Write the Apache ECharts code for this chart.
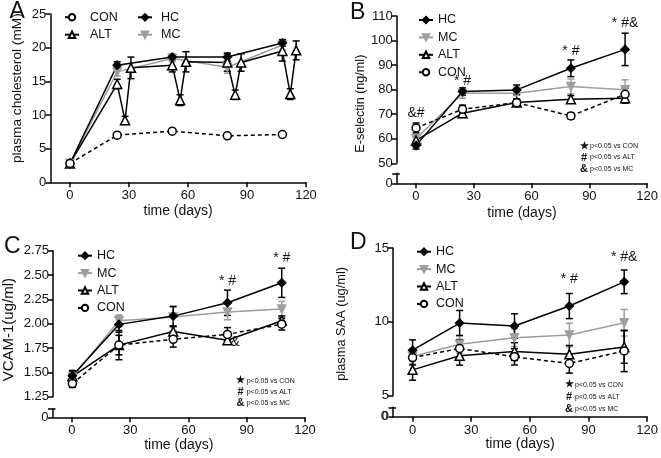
<!DOCTYPE html>
<html><head><meta charset="utf-8">
<script src="https://cdn.jsdelivr.net/npm/echarts@6/dist/echarts.min.js"></script>
<style>html,body{margin:0;padding:0;background:#fff}#c{width:661px;height:458px}</style>
</head><body><div id="c"></div>
<script>
// ---------------- data ----------------
const days = [0, 24, 52, 80, 108];
const xTickValues = [0, 30, 60, 90, 120];

// Panel A: plasma cholesterol (mM)
const cholHC = [2.8, 17.4, 18.6, 18.6, 20.7];
const cholHCErr = [0.3, 0.5, 0.4, 0.6, 0.5];
const cholMC = [2.8, 16.4, 18.4, 17.1, 20.4];
const cholMCErr = [0.3, 0.6, 0.5, 0.9, 0.7];
const cholALTDays = [0, 24, 28, 31, 52, 56, 59, 80, 84, 87, 108, 112, 115];
const cholALT = [2.8, 14.6, 9.2, 17.0, 17.4, 12.2, 17.9, 17.8, 13.0, 17.8, 19.5, 13.1, 19.6];
const cholALTErr = [0.3, 0.7, 0.6, 1.6, 1.0, 0.8, 1.5, 1.3, 0.7, 1.3, 1.5, 0.8, 1.4];
const cholCON = [2.8, 7.0, 7.6, 6.9, 7.1];
const cholCONErr = [0.3, 0.3, 0.3, 0.3, 0.2];

// Panel B: E-selectin (ng/ml)
const eselHC = [57.3, 79.2, 79.9, 88.7, 96.4];
const eselHCErr = [1.5, 1.5, 2.0, 3.4, 6.6];
const eselMC = [60.0, 78.5, 78.5, 81.3, 80.0];
const eselMCErr = [1.5, 2.0, 2.5, 3.0, 4.0];
const eselALT = [59.3, 70.4, 74.8, 76.1, 76.5];
const eselALTErr = [1.5, 1.7, 1.3, 1.5, 2.0];
const eselCON = [64.4, 72.0, 74.7, 69.3, 78.1];
const eselCONErr = [2.0, 1.7, 1.5, 1.3, 2.5];
const eselNotes = [[0, 70.5, '&#'], [24, 83.5, '* #'], [80, 95.5, '* #'], [108, 107, '* #&'], [1.7, 56.6, '*']];

// Panel C: VCAM-1 (ug/ml)
const vcamHC = [1.465, 1.993, 2.078, 2.215, 2.42];
const vcamHCErr = [0.05, 0.08, 0.1, 0.13, 0.15];
const vcamMC = [1.45, 2.03, 2.07, 2.12, 2.15];
const vcamMCErr = [0.05, 0.06, 0.1, 0.08, 0.08];
const vcamALT = [1.46, 1.78, 1.92, 1.83, 2.03];
const vcamALTErr = [0.06, 0.15, 0.05, 0.03, 0.05];
const vcamCON = [1.385, 1.78, 1.84, 1.89, 1.995];
const vcamCONErr = [0.04, 0.1, 0.08, 0.07, 0.06];
const vcamNotes = [[80, 2.44, '* #'], [108, 2.675, '* #'], [84, 1.806, '&']];

// Panel D: plasma SAA (ug/ml)
const saaHC = [8.08, 9.92, 9.72, 11.07, 12.71];
const saaHCErr = [0.7, 0.85, 0.83, 0.85, 0.8];
const saaMC = [7.65, 8.48, 8.93, 9.11, 9.94];
const saaMCErr = [0.5, 0.6, 0.6, 0.8, 0.9];
const saaALT = [6.75, 7.7, 7.99, 7.8, 8.3];
const saaALTErr = [0.7, 0.63, 0.6, 0.6, 1.1];
const saaCON = [7.58, 8.2, 7.63, 7.18, 8.03];
const saaCONErr = [0.5, 0.6, 0.55, 0.65, 1.4];
const saaNotes = [[80, 12.87, '* #'], [108, 14.37, '* #&']];

const sigLegend = [['\u2605', 'p<0.05 vs CON'], ['#', 'p<0.05 vs ALT'], ['&', 'p<0.05 vs MC']];
const stubTicks = [0, 1];
const stubLabels = [0];

// ---------------- styles ----------------
const FONT = 'Liberation Sans';
const BLACK = '#000';
const TEXT = '#111';
const GRAY = '#9e9e9e';
const LW = 1.5;

const styleOf = {
  HC:  {color: BLACK, symbol: 'diamond', size: 8, fill: BLACK, dash: 'solid', rot: 0},
  MC:  {color: GRAY, symbol: 'triangle', size: 8, fill: GRAY, dash: 'solid', rot: 180},
  ALT: {color: BLACK, symbol: 'triangle', size: 9, fill: '#fff', dash: 'solid', rot: 0},
  CON: {color: BLACK, symbol: 'circle', size: 8, fill: '#fff', dash: [4, 3], rot: 0}
};

function zip(xs, ys) { return xs.map((x, i) => [x, ys[i]]); }
function zip3(xs, ys, es) { return xs.map((x, i) => [x, ys[i], es[i]]); }

const series = [];
function addGroup(name, xi, yi, xs, ys, es) {
  const s = styleOf[name];
  series.push({
    type: 'custom', name: name + '_err' + xi, xAxisIndex: xi, yAxisIndex: yi, z: 2, silent: true,
    data: zip3(xs, ys, es),
    renderItem: function (params, api) {
      const x = api.value(0), y = api.value(1), e = api.value(2);
      const t = api.coord([x, y + e]), b = api.coord([x, y - e]);
      const hw = 3.5;
      const st = {stroke: s.color, lineWidth: LW};
      return {type: 'group', children: [
        {type: 'line', shape: {x1: t[0], y1: t[1], x2: b[0], y2: b[1]}, style: st},
        {type: 'line', shape: {x1: t[0] - hw, y1: t[1], x2: t[0] + hw, y2: t[1]}, style: st},
        {type: 'line', shape: {x1: b[0] - hw, y1: b[1], x2: b[0] + hw, y2: b[1]}, style: st}
      ]};
    }
  });
  series.push({
    type: 'line', name: name, xAxisIndex: xi, yAxisIndex: yi, z: 3,
    data: zip(xs, ys),
    symbol: s.symbol, symbolSize: s.size, symbolRotate: s.rot, showSymbol: true,
    lineStyle: {color: s.color, width: LW, type: s.dash},
    itemStyle: {color: s.fill, borderColor: s.color, borderWidth: LW},
    emphasis: {disabled: true}, animation: false
  });
}
function addNotes(xi, yi, notes) {
  series.push({
    type: 'custom', name: 'notes' + xi, xAxisIndex: xi, yAxisIndex: yi, z: 5, silent: true,
    data: notes.map(n => [n[0], n[1]]),
    renderItem: function (params, api) {
      const p = api.coord([api.value(0), api.value(1)]);
      return {type: 'text', x: p[0], y: p[1], style: {text: notes[params.dataIndex][2], fontSize: 14,
        fontFamily: FONT, fill: TEXT, align: 'center', verticalAlign: 'middle'}};
    }
  });
}

// ---------------- axes / grids ----------------
const grid = [], xAxis = [], yAxis = [];
const axisLineCfg = {show: true, onZero: false, lineStyle: {color: BLACK, width: LW}};
const labelCfg = {color: TEXT, fontSize: 13, fontFamily: FONT, fontWeight: 'normal'};
const nameStyle = {fontSize: 14, fontFamily: FONT, color: TEXT, fontWeight: 'normal'};

function addX(gi, show, nameGap) {
  xAxis.push({
    type: 'value', gridIndex: gi, position: 'bottom', min: -10, max: 120, show: show,
    axisLine: axisLineCfg,
    axisTick: {show: true, customValues: xTickValues, length: 5, lineStyle: {color: BLACK, width: LW}},
    axisLabel: Object.assign({customValues: xTickValues, margin: 7}, labelCfg),
    splitLine: {show: false},
    name: show ? 'time (days)' : '', nameLocation: 'middle', nameGap: nameGap, nameMoveOverlap: false,
    nameTextStyle: nameStyle
  });
  return xAxis.length - 1;
}
function addY(gi, min, max, interval, name, nameGap, pad, fs, fmt) {
  yAxis.push({
    type: 'value', gridIndex: gi, position: 'left', min: min, max: max, interval: interval,
    axisLine: axisLineCfg,
    axisTick: {show: true, length: 5, lineStyle: {color: BLACK, width: LW}},
    axisLabel: Object.assign({margin: 4, formatter: fmt}, labelCfg),
    splitLine: {show: false},
    name: name, nameLocation: 'middle', nameGap: nameGap, nameMoveOverlap: false,
    nameTextStyle: Object.assign({}, nameStyle, {padding: pad, fontSize: fs})
  });
  return yAxis.length - 1;
}
function addZeroStub(gi) {
  yAxis.push({
    type: 'value', gridIndex: gi, position: 'left', offset: 0, min: 0, max: 1,
    axisLine: {show: true, onZero: false, lineStyle: {color: BLACK, width: LW}},
    axisTick: {show: true, customValues: stubTicks, length: 4.5, lineStyle: {color: BLACK, width: LW}},
    axisLabel: Object.assign({margin: 4, customValues: stubLabels, showMinLabel: true, hideOverlap: false}, labelCfg),
    splitLine: {show: false}
  });
  yAxis.push({
    type: 'value', gridIndex: gi, position: 'left', offset: 0, min: 0, max: 1,
    axisLine: {show: false, onZero: false},
    axisTick: {show: true, inside: true, customValues: [1], length: 3, lineStyle: {color: BLACK, width: LW}},
    axisLabel: {show: false}, splitLine: {show: false}
  });
}

// Panel A
grid.push({left: 50.3, top: 14, width: 255.7, height: 168.3});
const axA = addX(0, true, 22);
const ayA = addY(0, 0, 25, 5, 'plasma cholesterol (mM)', 26, [0, 0, 0, 20], 13.7);
addGroup('MC', axA, ayA, days, cholMC, cholMCErr);
addGroup('HC', axA, ayA, days, cholHC, cholHCErr);
addGroup('ALT', axA, ayA, cholALTDays, cholALT, cholALTErr);
addGroup('CON', axA, ayA, days, cholCON, cholCONErr);

// Panel B
grid.push({left: 396.7, top: 16, width: 251.6, height: 147.3});
grid.push({left: 396.7, top: 173.3, width: 251.6, height: 10});
const bxMain = addX(1, false, 0);
const byMain = addY(1, 50, 110, 10, 'E-selectin (ng/ml)', 30, [0, 28, 0, 0], 12.6);
addX(2, true, 23);
addZeroStub(2);
addGroup('MC', bxMain, byMain, days, eselMC, eselMCErr);
addGroup('ALT', bxMain, byMain, days, eselALT, eselALTErr);
addGroup('CON', bxMain, byMain, days, eselCON, eselCONErr);
addGroup('HC', bxMain, byMain, days, eselHC, eselHCErr);
addNotes(bxMain, byMain, eselNotes);

// Panel C
grid.push({left: 52.5, top: 250.7, width: 252.5, height: 146});
grid.push({left: 52.5, top: 409, width: 252.5, height: 8.3});
const cxMain = addX(3, false, 0);
const cyMain = addY(3, 1.25, 2.75, 0.25, 'VCAM-1(ug/ml)', 37, [0, 12, 0, 0], 15, v => v.toFixed(2));
addX(4, true, 21);
addZeroStub(4);
addGroup('MC', cxMain, cyMain, days, vcamMC, vcamMCErr);
addGroup('ALT', cxMain, cyMain, days, vcamALT, vcamALTErr);
addGroup('CON', cxMain, cyMain, days, vcamCON, vcamCONErr);
addGroup('HC', cxMain, cyMain, days, vcamHC, vcamHCErr);
addNotes(cxMain, cyMain, vcamNotes);

// Panel D
grid.push({left: 393, top: 248, width: 254.7, height: 147.7});
grid.push({left: 393, top: 407.3, width: 254.7, height: 9.4});
const dxMain = addX(5, false, 0);
const dyMain = addY(5, 5, 15, 5, 'plasma SAA (ug/ml)', 45.5, [0, 4, 0, 0], 12.8);
addX(6, true, 20);
addZeroStub(6);
addGroup('MC', dxMain, dyMain, days, saaMC, saaMCErr);
addGroup('ALT', dxMain, dyMain, days, saaALT, saaALTErr);
addGroup('CON', dxMain, dyMain, days, saaCON, saaCONErr);
addGroup('HC', dxMain, dyMain, days, saaHC, saaHCErr);
addNotes(dxMain, dyMain, saaNotes);

// ---------------- legends ----------------
function legendCfg(left, top, data, pad) {
  return {
    left: left, top: top, orient: 'vertical', data: data, itemWidth: 14, itemHeight: 8, itemGap: 3.4,
    selectedMode: false,
    textStyle: {fontSize: 12.5, fontFamily: FONT, color: TEXT, lineHeight: 14, padding: [0, 0, 0, pad]}
  };
}
const legend = [
  legendCfg(59, 5.3, ['CON', 'ALT'], 6),
  legendCfg(132, 5.3, ['HC', 'MC'], 4),
  legendCfg(413, 8, ['HC', 'MC', 'ALT', 'CON'], 0),
  legendCfg(72, 243.7, ['HC', 'MC', 'ALT', 'CON'], 0),
  legendCfg(411, 239.7, ['HC', 'MC', 'ALT', 'CON'], 0)
];

// ---------------- graphic text ----------------
const graphic = [];
function panelLetter(t, x, y) {
  graphic.push({type: 'text', x: x, y: y, style: {text: t, fontSize: 23, fontFamily: FONT, fill: TEXT,
    align: 'left', verticalAlign: 'middle'}});
}
panelLetter('A', 9.5, 11.7);
panelLetter('B', 350, 12.5);
panelLetter('C', 4, 246.3);
panelLetter('D', 350, 242.2);
function sigBlock(xs, xt, ys) {
  sigLegend.forEach((r, i) => {
    graphic.push({type: 'text', x: xs, y: ys[i], style: {text: r[0], fontSize: i === 0 ? 10 : 11,
      fontWeight: 'bold', fontFamily: FONT, fill: TEXT, align: 'center', verticalAlign: 'middle'}});
    graphic.push({type: 'text', x: xt, y: ys[i], style: {text: r[1], fontSize: 7, fontFamily: FONT,
      fill: TEXT, align: 'left', verticalAlign: 'middle'}});
  });
}
sigBlock(584, 590, [146.5, 157.5, 168.8]);
sigBlock(240.5, 246.7, [380.7, 392, 403]);
sigBlock(569, 575, [384.7, 397, 409]);
// panel D broken-axis "0" label (the axis label of this short stub gets suppressed)
graphic.push({type: 'text', z: 100, x: 388, y: 416.2, style: {text: '0', fontSize: 13, fontFamily: FONT,
  fill: TEXT, align: 'right', verticalAlign: 'middle'}});

const chart = echarts.init(document.getElementById('c'), null, {renderer: 'canvas'});
chart.setOption({
  animation: false, backgroundColor: '#fff',
  grid: grid, xAxis: xAxis, yAxis: yAxis, series: series, legend: legend, graphic: graphic,
  tooltip: {show: false}
});
</script></body></html>
